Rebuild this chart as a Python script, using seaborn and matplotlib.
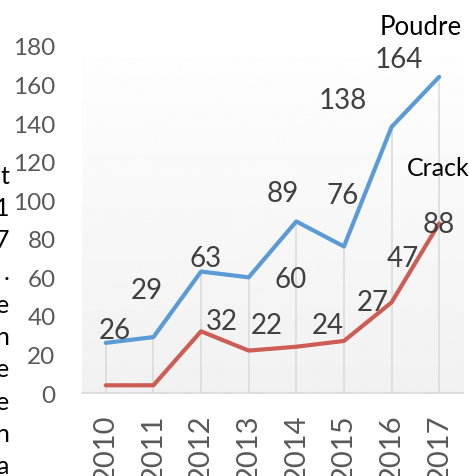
import numpy as np
import pandas as pd
import matplotlib
matplotlib.use("Agg")
import matplotlib.pyplot as plt
import seaborn as sns

# data
years = ["2010", "2011", "2012", "2013", "2014", "2015", "2016", "2017"]
poudre = [26, 29, 63, 60, 89, 76, 138, 164]
crack = [4, 4, 32, 22, 24, 27, 47, 88]
crack_shown = [False, False, True, True, True, True, True, True]

# label offsets (x in category steps, y in data units) as in the original
poudre_dx = [0.19, -0.14, 0.09, 0.88, -0.29, -0.02, -1.02, -0.84]
poudre_dy = [6.6, 24.4, 7.0, -1.0, 14.6, 26.6, 14.0, 9.0]
crack_dx = [0, 0, 0.43, 0.38, 0.66, 0.61, 0.24, 0.0]
crack_dy = [0, 0, 5.3, 13.2, 11.2, 20.0, 23.0, -0.4]

# stray document text cut off on the left side
side_chars = ["t", "1", "7", ".", "e", "n", "e", "e", "n", "a"]

blue = "#5b9bd5"
red = "#cd5c55"


def main():
    sns.set_style("white")
    plt.rcParams["font.family"] = ["Lato", "DejaVu Sans"]

    pos = np.arange(len(years))
    df = pd.DataFrame({
        "pos": np.concatenate([pos, pos]),
        "value": poudre + crack,
        "serie": ["Poudre"] * len(years) + ["Crack"] * len(years),
    })

    fig = plt.figure(figsize=(4.69, 4.77), dpi=100)
    ax = fig.add_axes([0.1748, 0.174, 0.8124, 0.7275])

    # light gradient plot area
    grad = np.linspace(0.995, 0.945, 256).reshape(-1, 1)
    ax.imshow(grad, cmap="gray", vmin=0, vmax=1, aspect="auto",
              extent=(-0.5, 7.5, 0, 174), zorder=0, interpolation="bicubic")

    # drop lines
    ax.vlines(pos, 0, poudre, color="#d9d9d9", lw=1.1, zorder=1)

    sns.lineplot(data=df, x="pos", y="value", hue="serie",
                 palette={"Poudre": blue, "Crack": red},
                 lw=3.0, legend=False, ax=ax, zorder=3)

    ax.set_xlim(-0.5, 7.5)
    ax.set_ylim(0, 180)
    ax.set_yticks(range(0, 181, 20))
    ax.set_xticks(pos)
    ax.set_xticklabels(years, rotation=90, va="top")
    ax.tick_params(axis="x", length=0, pad=15, labelsize=21, labelcolor="#595959")
    ax.tick_params(axis="y", length=0, pad=19, labelsize=17.5, labelcolor="#595959")
    ax.set_xlabel("")
    ax.set_ylabel("")
    for s in ["top", "right", "left"]:
        ax.spines[s].set_visible(False)
    ax.spines["bottom"].set_color("#d9d9d9")
    ax.spines["bottom"].set_linewidth(1.2)

    # data labels
    for i, v in enumerate(poudre):
        ax.text(i + poudre_dx[i], v + poudre_dy[i], str(v), ha="center",
                va="center", fontsize=20, color="#404040", zorder=4)
    for i, v in enumerate(crack):
        if crack_shown[i]:
            ax.text(i + crack_dx[i], v + crack_dy[i], str(v), ha="center",
                    va="center", fontsize=20, color="#404040", zorder=4)

    # series names
    ax.text(7 - 0.38, poudre[-1] + 26, "Poudre", ha="center", va="center",
            fontsize=18.5, color="black", clip_on=False)
    ax.text(7 - 0.02, crack[-1] + 29, "Crack", ha="center", va="center",
            fontsize=18, color="black", clip_on=False)

    # fragments of the surrounding text
    for k, ch in enumerate(side_chars):
        fig.text(9 / 469, 1 - (176 + 32.3 * k) / 477, ch, ha="right",
                 va="center", fontsize=18, color="black")

    fig.savefig("out.png", dpi=100)


if __name__ == "__main__":
    main()
